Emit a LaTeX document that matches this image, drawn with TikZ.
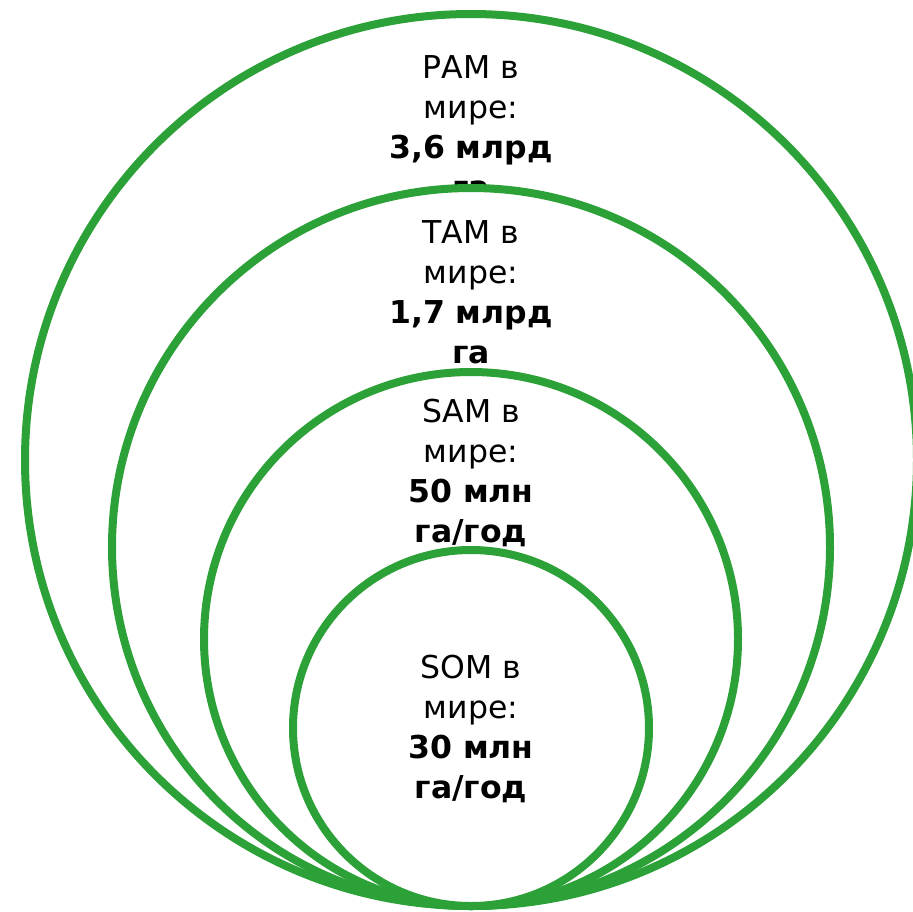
\documentclass[tikz,border=0pt]{standalone}
\usepackage{fontspec}
\setmainfont{DejaVu Sans}
\definecolor{ringgreen}{RGB}{43,161,55}
\tikzset{
  ring/.style={circle, draw=ringgreen, fill=white, line width=8pt, inner sep=0pt, outer sep=0pt},
  ringlabel/.style={anchor=base, inner sep=0pt, text=black,
    font=\fontsize{31.5}{40}\selectfont}
}
\begin{document}
\begin{tikzpicture}[x=1pt, y=-1pt]
  \useasboundingbox (0,0) rectangle (913,911);
  \clip (0,0) rectangle (913,911);
  % nested rings, all touching at the bottom point (471,906)
  \node[ring, minimum size=892pt] (pam) at (471,460) {};
  \node[ringlabel] (pamtext) at (471,78)
    {\begin{tabular}[t]{@{}c@{}}РАМ в\\мире:\\\textbf{3,6 млрд}\\\textbf{га}\end{tabular}};
  \node[ring, minimum size=718pt] (tam) at (471,547) {};
  \node[ringlabel] (tamtext) at (471,243)
    {\begin{tabular}[t]{@{}c@{}}ТАМ в\\мире:\\\textbf{1,7 млрд}\\\textbf{га}\end{tabular}};
  \node[ring, minimum size=534pt] (sam) at (471,639) {};
  \node[ringlabel] (samtext) at (471,422)
    {\begin{tabular}[t]{@{}c@{}}SAM в\\мире:\\\textbf{50 млн}\\\textbf{га/год}\end{tabular}};
  \node[ring, minimum size=356pt] (som) at (471,728) {};
  \node[ringlabel] (somtext) at (471,678)
    {\begin{tabular}[t]{@{}c@{}}SOM в\\мире:\\\textbf{30 млн}\\\textbf{га/год}\end{tabular}};
\end{tikzpicture}
\end{document}
